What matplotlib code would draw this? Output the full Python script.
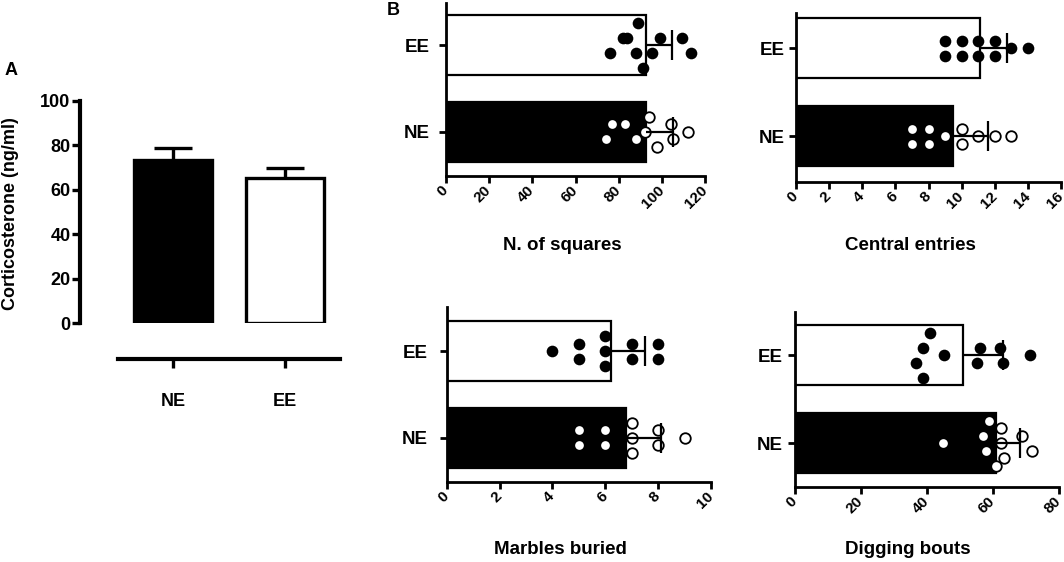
import matplotlib
matplotlib.use("Agg")
import matplotlib.pyplot as plt
import numpy as np

plt.rcParams['font.family'] = ['Liberation Sans', 'DejaVu Sans']
plt.rcParams['font.weight'] = 'bold'
plt.rcParams['axes.labelweight'] = 'bold'

W, H = 1064, 562

# panel A: corticosterone, mean and error
cort_groups = ["NE", "EE"]
cort_mean = [73.4, 65.1]
cort_err = [5.5, 4.5]

# panel B: one value per animal
squares_ne = [77.1, 74.1, 82.9, 88.0, 94.2, 92.2, 97.9, 104.3, 105.3, 112.3]
squares_ee = [82.2, 76.0, 89.1, 84.0, 88.0, 91.1, 99.2, 95.3, 109.2, 113.5]
central_ne = [7, 7, 8, 8, 9, 10, 10, 11, 12, 13]
central_ee = [9, 9, 10, 10, 11, 11, 12, 12, 13, 14]
marbles_ne = [5, 5, 6, 6, 7, 7, 7, 8, 8, 9]
marbles_ee = [4, 5, 5, 6, 6, 6, 7, 7, 8, 8]
digging_ne = [44.9, 58.8, 57.0, 58.0, 60.8, 62.3, 62.3, 63.3, 68.9, 71.9]
digging_ee = [40.9, 38.8, 36.8, 38.8, 45.1, 56.0, 55.0, 62.1, 63.1, 71.1]


def box(l, r, t, b):
    # pixel box -> figure fraction
    return [l / W, 1 - b / H, (r - l) / W, (b - t) / H]


def swarm(values, px_per_unit, step, bin_px=16):
    # graphpad-like layout: cluster close values, spread each cluster symmetrically
    v = np.asarray(values, float)
    order = np.argsort(v, kind='stable')
    bins = []
    for i in order:
        if bins and (v[i] - v[bins[-1][0]]) * px_per_unit < bin_px:
            bins[-1].append(i)
        else:
            bins.append([i])
    offs = np.zeros(len(v))
    for b in bins:
        b = sorted(b)
        n = len(b)
        for k, i in enumerate(b):
            offs[i] = ((n - 1) / 2 - k) * step
    return offs


fig = plt.figure(figsize=(W / 100, H / 100), dpi=100)

# ---- A ----
axA = fig.add_axes(box(80, 340, 101, 323))
axA.bar([0, 1], cort_mean, width=0.69, color=['black', 'white'],
        edgecolor='black', linewidth=2.4, zorder=2)
eb = axA.errorbar([0, 1], cort_mean, yerr=[[0, 0], cort_err], fmt='none',
                  ecolor='black', elinewidth=2.4, capsize=13.7, capthick=2.4, zorder=3)
eb[1][0].set_visible(False)
axA.set_xlim(-0.83, 1.49)
axA.set_ylim(0, 100)
axA.spines['top'].set_visible(False)
axA.spines['right'].set_visible(False)
axA.spines['left'].set_linewidth(3)
axA.spines['bottom'].set_linewidth(3)
axA.spines['bottom'].set_position(('outward', 26))
axA.spines['bottom'].set_bounds(-0.49, 1.49)
axA.set_yticks(np.arange(0, 101, 20))
axA.set_xticks([0, 1], cort_groups)
axA.tick_params(axis='y', width=2.4, length=5.8, labelsize=13, pad=1)
axA.tick_params(axis='x', width=2.4, length=6.5, labelsize=13, pad=18)
axA.set_ylabel('Corticosterone (ng/ml)', fontsize=13)
axA.yaxis.set_label_coords(19 / W, 1 - 214 / H, transform=fig.transFigure)
fig.text(5 / W, 1 - 62 / H, 'A', fontsize=13, va='top', ha='left')
fig.text(387 / W, 1 - 2 / H, 'B', fontsize=13, va='top', ha='left')

# ---- B ----
panels = [
    ("N. of squares", squares_ne, squares_ee, 120, 20, (446, 705, 3, 176), (-0.506, 1.483), 562, 237, 6.5),
    ("Central entries", central_ne, central_ee, 16, 2, (796, 1061, 13, 182), (-0.52, 1.40), 910, 237, 3),
    ("Marbles buried", marbles_ne, marbles_ee, 10, 2, (446.7, 711, 307, 482), (-0.506, 1.506), 560, 541, 9),
    ("Digging bouts", digging_ne, digging_ee, 80, 20, (795, 1059, 312, 487), (-0.5, 1.49), 908, 541, 3.6),
]

for label, ne, ee, xmax, xstep, pbox, ylim, lx, ly, ypad in panels:
    l, r, t, b = pbox
    ax = fig.add_axes(box(l, r, t, b))
    ax.set_xlim(0, xmax)
    ax.set_ylim(*ylim)
    px_x = (r - l) / xmax
    px_y = (b - t) / (ylim[1] - ylim[0])
    step = 15 / px_y

    means = [np.mean(ne), np.mean(ee)]
    sds = [np.std(ne, ddof=1), np.std(ee, ddof=1)]
    ax.barh([0, 1], means, height=0.68, color=['black', 'white'],
            edgecolor='black', linewidth=1.6, zorder=1)
    ax.plot(ne, 0 + swarm(ne, px_x, step), 'o', ms=7.6, mfc='white', mec='black',
            mew=1.3, zorder=3, clip_on=False)
    ax.plot(ee, 1 + swarm(ee, px_x, step), 'o', ms=8.4, mfc='black', mec='black',
            mew=0, zorder=3, clip_on=False)
    eb = ax.errorbar(means, [0, 1], xerr=[[0, 0], sds], fmt='none', ecolor='black',
                     elinewidth=1.6, capsize=11, capthick=1.6, zorder=4)
    eb[1][0].set_visible(False)

    ax.spines['top'].set_visible(False)
    ax.spines['right'].set_visible(False)
    ax.spines['left'].set_linewidth(2)
    ax.spines['bottom'].set_linewidth(2)
    ax.set_yticks([0, 1], ['NE', 'EE'])
    ax.set_xticks(np.arange(0, xmax + 1, xstep))
    ax.tick_params(axis='y', width=2, length=5, labelsize=13.5, pad=ypad)
    ax.tick_params(axis='x', width=2, length=5, labelsize=11, pad=4)
    plt.setp(ax.get_xticklabels(), rotation=45, ha='right', va='center',
             rotation_mode='anchor')
    ax.set_xlabel(label, fontsize=13.5)
    ax.xaxis.set_label_coords(lx / W, 1 - ly / H, transform=fig.transFigure)

fig.savefig('out.png', dpi=100)
